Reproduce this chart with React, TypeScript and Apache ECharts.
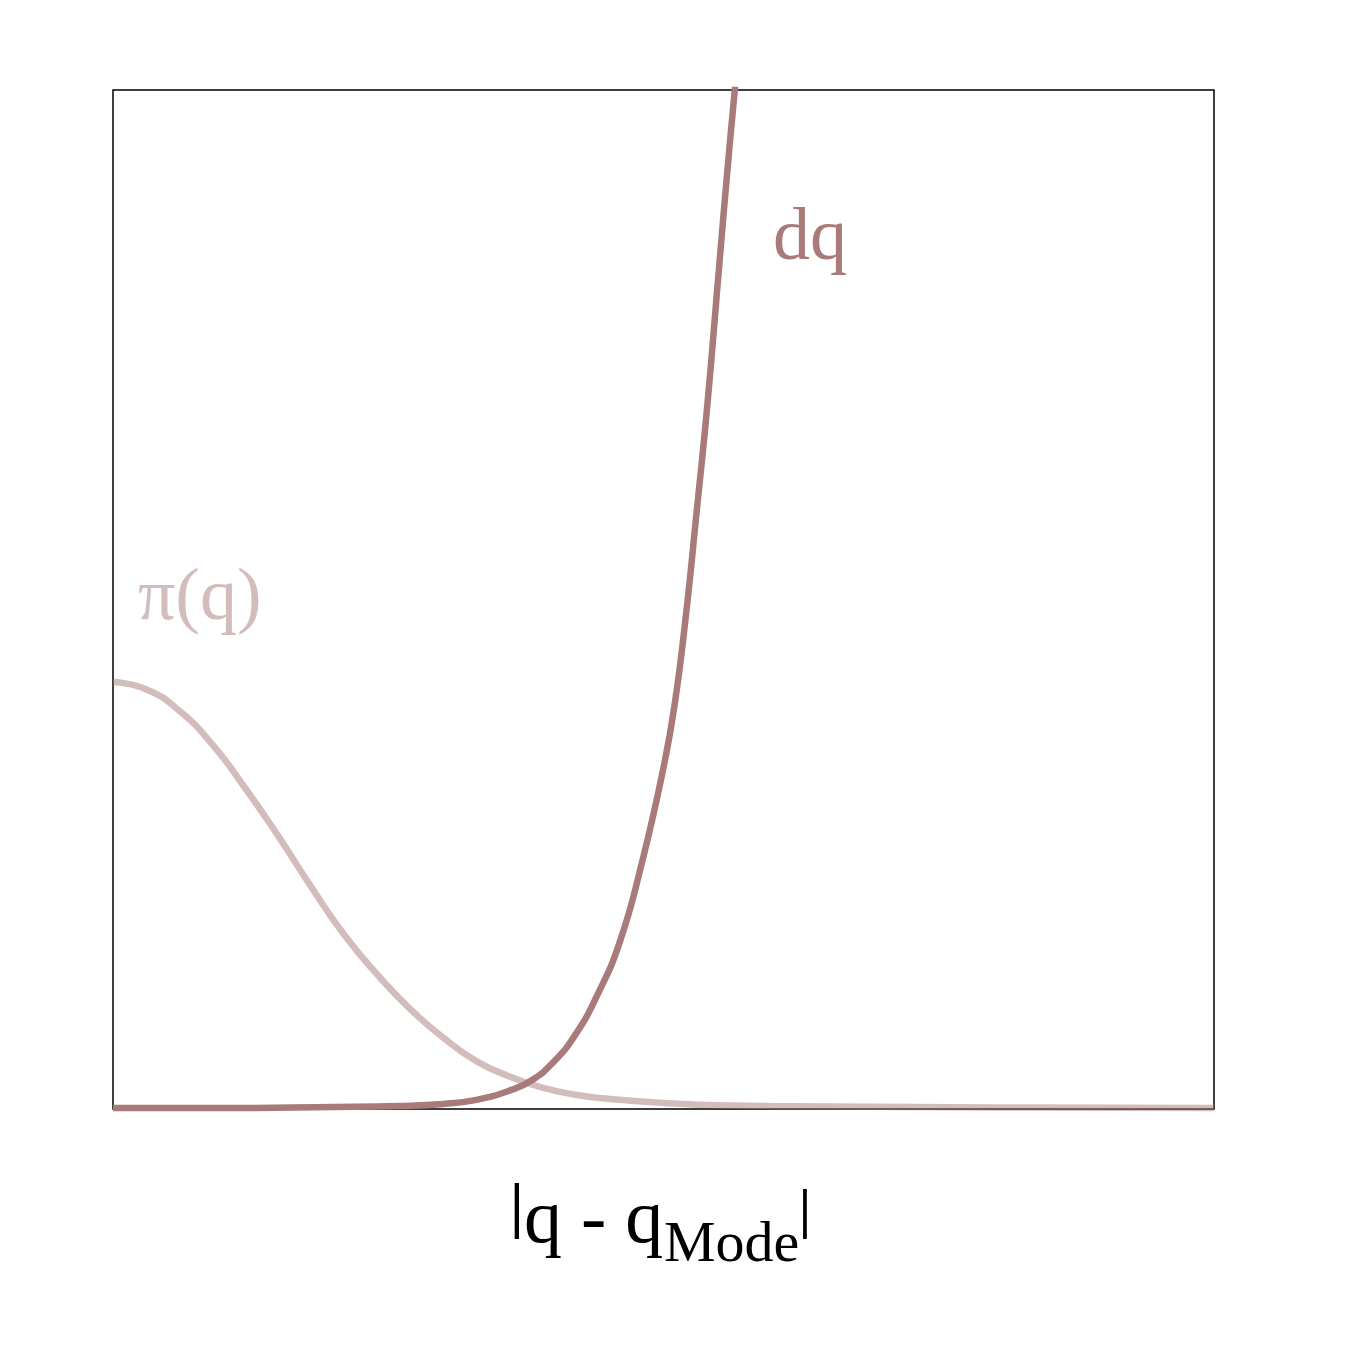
import React, { useEffect, useRef } from "react";
import * as echarts from "echarts";

// |q - q_Mode| positions (fraction of the plotted range)
const piX = [0, 0.03, 0.06, 0.09, 0.12, 0.15, 0.18, 0.21, 0.24, 0.27, 0.3, 0.33, 0.36, 0.39, 0.42, 0.45, 0.5, 0.56, 0.65, 0.8, 1.0];
const piY = [0.419, 0.412, 0.391, 0.358, 0.315, 0.268, 0.218, 0.171, 0.132, 0.098, 0.07, 0.047, 0.032, 0.021, 0.014, 0.01, 0.006, 0.0035, 0.0025, 0.0015, 0.001];

const dqX = [0, 0.1, 0.2, 0.26, 0.3, 0.33, 0.36, 0.38, 0.4, 0.42, 0.44, 0.46, 0.48, 0.5, 0.51, 0.52, 0.53, 0.54, 0.55, 0.56, 0.57, 0.58];
const dqY = [0.001, 0.001, 0.002, 0.003, 0.005, 0.009, 0.018, 0.028, 0.046, 0.073, 0.112, 0.163, 0.24, 0.335, 0.396, 0.481, 0.585, 0.693, 0.82, 0.945, 1.06, 1.18];

const seriesNames = ["π(q)", "dq"];
const axisBar = "|";
const axisMain = "q - q";
const axisSub = "Mode";

const baseColor = "#a87a7a";
const lightColor = "rgba(168,122,122,0.5)";
const labelFont = '"Liberation Serif", "Times New Roman", serif';

export default function App() {
  const ref = useRef<HTMLDivElement>(null);
  useEffect(() => {
    if (!ref.current) return;
    const chart = echarts.init(ref.current, null, { renderer: "svg" });
    chart.setOption({
      animation: false,
      backgroundColor: "#ffffff",
      grid: {
        left: 113,
        top: 90,
        width: 1101,
        height: 1019,
        show: true,
        borderColor: "#000",
        borderWidth: 1.5,
        backgroundColor: "transparent",
      },
      xAxis: { type: "value", min: 0, max: 1, show: false },
      yAxis: { type: "value", min: 0, max: 1, show: false },
      series: [
        {
          name: seriesNames[1],
          type: "line",
          data: dqX.map((x, i) => [x, dqY[i]]),
          showSymbol: false,
          smooth: 0.5,
          clip: true,
          lineStyle: { color: baseColor, width: 6.5 },
          z: 2,
        },
        {
          name: seriesNames[0],
          type: "line",
          data: piX.map((x, i) => [x, piY[i]]),
          showSymbol: false,
          smooth: 0.5,
          clip: true,
          lineStyle: { color: lightColor, width: 6.5 },
          z: 3,
        },
      ],
      graphic: [
        {
          type: "text",
          left: 138,
          top: 557,
          style: { text: seriesNames[0], font: `74px ${labelFont}`, fill: lightColor },
        },
        {
          type: "text",
          left: 773,
          top: 197,
          style: { text: seriesNames[1], font: `74px ${labelFont}`, fill: baseColor },
        },
        {
          type: "text",
          left: 510,
          top: 1174,
          style: { text: axisBar, font: `bold 62px ${labelFont}`, fill: "#000" },
        },
        {
          type: "text",
          left: 524,
          top: 1178,
          style: { text: axisMain, font: `76px ${labelFont}`, fill: "#000" },
        },
        {
          type: "text",
          left: 664,
          top: 1212,
          style: { text: axisSub, font: `58px ${labelFont}`, fill: "#000" },
        },
        {
          type: "text",
          left: 799,
          top: 1182,
          style: { text: axisBar, font: `bold 54px ${labelFont}`, fill: "#000" },
        },
      ],
    });
    return () => chart.dispose();
  }, []);
  return (
    <div
      ref={ref}
      style={{ position: "absolute", left: 0, top: 0, width: 1350, height: 1350, background: "#fff" }}
    />
  );
}
